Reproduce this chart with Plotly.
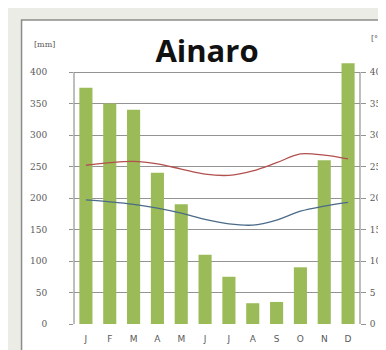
import plotly.graph_objects as go

months = ["Jan", "Feb", "Mar", "Apr", "May", "Jun", "Jul", "Aug", "Sep", "Oct", "Nov", "Dec"]
month_labels = ["J", "F", "M", "A", "M", "J", "J", "A", "S", "O", "N", "D"]
precip_mm = [375, 350, 340, 240, 190, 110, 75, 33, 35, 90, 260, 414]
temp_max_c = [25.2, 25.6, 25.8, 25.4, 24.6, 23.8, 23.6, 24.3, 25.6, 27.0, 26.8, 26.2]
temp_min_c = [19.7, 19.4, 19.0, 18.4, 17.6, 16.6, 15.9, 15.7, 16.5, 17.9, 18.7, 19.3]
mm_ticks = [0, 50, 100, 150, 200, 250, 300, 350, 400]
c_ticks = [0, 5, 10, 15, 20, 25, 30, 35, 40]

W, H = 386, 350
L, R, T, B = 66, 31, 55, 34
plot_h = H - T - B
ymax = 400 * plot_h / (316 - 64)

fig = go.Figure()
fig.add_trace(go.Bar(x=months, y=precip_mm, marker=dict(color="#9BBB59", line=dict(width=0)),
                     width=0.55, yaxis="y"))
fig.add_trace(go.Scatter(x=months, y=temp_max_c, mode="lines", yaxis="y2",
                         line=dict(color="#B2504E", width=1.3, shape="spline")))
fig.add_trace(go.Scatter(x=months, y=temp_min_c, mode="lines", yaxis="y2",
                         line=dict(color="#4A6A88", width=1.3, shape="spline")))

tickfont = dict(family="DejaVu Serif", size=9, color="#5a5a5a")

pw = W - L - R
fx0 = (13 - L) / pw
fy0 = (H - B - 12) / plot_h

fig.update_layout(
    width=W, height=H,
    margin=dict(l=L, r=R, t=T, b=B, pad=0),
    paper_bgcolor="#ECECE6",
    plot_bgcolor="rgba(0,0,0,0)",
    showlegend=False,
    bargap=0.45,
    title=dict(text="<b>Ainaro</b>", x=199 / W, xanchor="center",
               y=1 - 43 / H, yanchor="middle",
               font=dict(family="Open Sans", size=31, color="#111111")),
    xaxis=dict(type="category", tickmode="array", tickvals=months, ticktext=month_labels,
               tickfont=dict(family="DejaVu Sans", size=9, color="#5a5a5a"),
               showgrid=False, showline=False, ticks="", ticklen=0, zeroline=False,
               ticklabelstandoff=8),
    yaxis=dict(range=[0, ymax], tickvals=mm_ticks, tickfont=tickfont,
               showgrid=True, gridcolor="#939393", gridwidth=1.2,
               ticks="outside", ticklen=4, tickcolor="#939393", zeroline=False,
               showline=False, ticklabelstandoff=20),
    yaxis2=dict(range=[0, ymax / 10], tickvals=c_ticks, overlaying="y", side="right",
                tickfont=tickfont, showgrid=False, ticks="outside", ticklen=5,
                tickcolor="#939393", zeroline=False, showline=False, ticklabelstandoff=2),
)

# chart frame (white card with gray border) and axis lines
fig.add_shape(type="rect", xref="paper", yref="paper", x0=fx0, x1=1.3, y0=-0.3, y1=fy0,
              fillcolor="white", line=dict(color="#8c8c8c", width=1.5), layer="below")
fig.add_shape(type="line", xref="paper", yref="y", x0=0, x1=0, y0=0, y1=400,
              line=dict(color="#939393", width=1.2))
fig.add_shape(type="line", xref="paper", yref="y", x0=1, x1=1, y0=0, y1=400,
              line=dict(color="#939393", width=1.2))

fig.add_annotation(text="[mm]", xref="paper", yref="paper", x=(36 - L) / pw,
                   y=(H - B - 36) / plot_h, showarrow=False, xanchor="center", yanchor="middle",
                   font=dict(family="DejaVu Serif", size=8, color="#5a5a5a"))
fig.add_annotation(text="[°C]", xref="paper", yref="paper", x=(364 - L) / pw,
                   y=(H - B - 30) / plot_h, showarrow=False, xanchor="left", yanchor="middle",
                   font=dict(family="DejaVu Serif", size=8, color="#5a5a5a"))

fig.write_html("out.html")
